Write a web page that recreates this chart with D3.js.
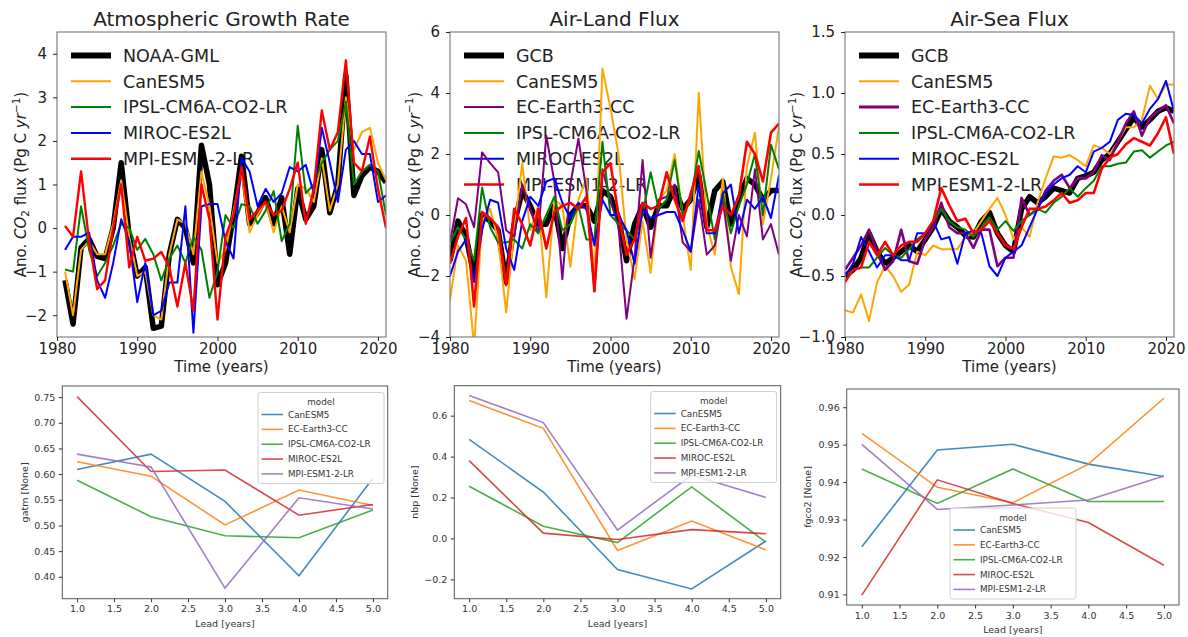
<!DOCTYPE html>
<html>
<head>
<meta charset="utf-8">
<script src="https://cdnjs.cloudflare.com/ajax/libs/d3/7.8.5/d3.min.js"></script>
<style>
body { margin: 0; background: #fff; }
text { font-family: "DejaVu Sans", sans-serif; }
</style>
</head>
<body>
<svg id="fig" width="1188" height="637"></svg>
<script>
// ---------- data : top row (anomalies, Pg C / yr) ----------
var years = [1980, 1981, 1982, 1983, 1984, 1985, 1986, 1987, 1988, 1989,
             1990, 1991, 1992, 1993, 1994, 1995, 1996, 1997, 1998, 1999,
             2000, 2001, 2002, 2003, 2004, 2005, 2006, 2007, 2008, 2009,
             2010, 2011, 2012, 2013, 2014, 2015, 2016, 2017, 2018, 2019,
             2020, 2021];
var atmYears = years.slice(1);   // growth rate series start in 1981
var yearTicks = [1980, 1990, 2000, 2010, 2020];

// Atmospheric growth rate (1981-2021)
var atm_noaa  = [-1.2, -2.2, -0.45, -0.25, -0.65, -0.7, 0.0, 1.5, -0.2,
                 -1.1, -0.9, -2.3, -2.25, -0.6, 0.2, 0.0, -0.8, 1.9, 1.0,
                 -1.3, -0.8, 0.3, 1.65, 0.1, 0.35, 0.7, 0.1, 0.7, -0.6,
                 0.9, 0.2, 0.5, 1.8, 0.35, 1.0, 3.5, 0.75, 1.2, 1.4,
                 1.3, 1.05];
var atm_can   = [-1.0, -2.0, -0.5, -0.3, -0.6, -0.6, 0.1, 1.1, -0.2,
                 -1.1, -1.0, -2.0, -2.1, -0.6, 0.2, 0.1, -0.6, 1.3, 0.5,
                 -0.8, -0.5, 0.4, 1.3, -0.1, 0.3, 0.6, -0.1, 0.5, -0.1,
                 1.0, 0.9, 0.6, 1.6, 0.4, 1.0, 3.0, 1.8, 2.2, 2.3,
                 1.5, 1.1];
var atm_ipsl  = [-0.95, -1.0, 0.5, -0.5, -1.1, -0.8, -0.4, 0.1, 0.0,
                 -0.5, -0.25, -0.6, -1.2, -0.7, -0.4, -0.8, -0.2, -0.5, -1.6,
                 -1.0, 0.3, 0.0, 0.55, 0.5, 0.1, 0.4, 0.85, -0.3, 0.1,
                 2.35, 0.8, 1.0, 1.5, 1.8, 2.0, 2.9, 1.0, 1.3, 1.45,
                 1.3, 0.3];
var atm_miroc = [-0.5, -0.2, -0.2, -0.1, -1.2, -1.6, -0.8, 0.2, -0.3,
                 -1.7, -0.8, -2.0, -1.9, -1.25, -1.25, 0.5, -2.4, 0.5, 0.55,
                 0.55, -0.3, -0.7, 1.6, 1.3, 0.5, 0.9, 0.6, 0.8, 1.4,
                 1.3, 1.45, 0.8, 2.3, 1.5, 0.6, 1.8, 2.0, 1.7, 1.7,
                 0.6, 0.75];
var atm_mpi   = [0.05, -0.2, 1.3, -0.3, -1.4, -1.2, 0.0, 1.0, -0.9,
                 -0.2, -0.75, -0.7, -0.55, -0.9, -1.8, -0.8, -1.9, 1.0, 0.2,
                 -2.1, -0.2, 0.3, 1.4, 0.2, 0.4, 0.6, 0.3, 0.4, 0.9,
                 1.5, 0.1, 0.9, 2.7, 1.8, 2.2, 3.85, 1.5, 1.3, 2.1,
                 0.9, 0.0];

// Air-land flux (1980-2021)
var land_gcb   = [-1.5, -0.2, -0.7, -2.0, 0.0, -0.2, -0.5, -2.2, -0.3, 0.8,
                  0.3, -0.3, -0.3, 0.3, -1.1, 0.0, 0.3, 0.3, -0.2, 0.8,
                  0.6, -0.1, -1.5, -0.3, 0.3, -0.4, 0.3, 0.3, 0.9, 0.2,
                  0.5, 1.3, -0.4, 0.8, 1.1, -0.3, 0.5, 1.2, 1.0, 0.5,
                  0.8, 0.8];
var land_can   = [-2.8, -1.0, -1.5, -4.3, -0.2, 0.2, -0.8, -3.2, -0.5, 1.7,
                  -0.5, 0.3, -2.7, 0.5, 0.3, -1.7, 0.5, 1.2, -2.0, 4.8,
                  3.5, 2.0, -0.8, -2.1, -0.2, -1.9, 0.5, 0.8, 2.0, 0.0,
                  -1.8, 4.0, -0.3, -1.3, 1.2, -1.7, -2.6, 1.6, 2.7, -0.3,
                  1.2, 2.9];
var land_ec    = [-0.9, 0.55, 0.35, -0.4, 2.05, 1.7, 1.4, -0.5, -0.7, 1.0,
                  0.2, -0.6, 2.6, 1.1, -2.1, 1.0, 2.5, 0.8, -2.5, 1.5,
                  0.5, -0.4, -3.4, -1.4, 1.8, -1.4, 0.5, 0.6, 1.0, -0.9,
                  -1.2, 0.5, -1.3, -1.0, 0.5, -1.5, 0.0, -0.7, 1.5, -0.8,
                  -0.3, -1.3];
var land_ipsl  = [-0.9, -0.4, -0.8, -1.5, 0.9, -0.4, -0.9, -0.9, -0.8, -1.1,
                  -0.3, -0.6, 0.0, 0.6, -0.5, -0.3, 0.3, -0.8, -0.8, 2.4,
                  0.0, -0.3, -0.5, -0.8, 0.0, 1.4, 0.2, 0.5, 1.8, 0.0,
                  0.5, 2.1, 0.7, -0.8, 0.7, -0.6, 0.3, 1.0, 2.0, 0.0,
                  2.3, 1.5];
var land_miroc = [-2.0, -1.2, -0.8, -2.2, -0.5, 0.5, 0.4, -1.1, -1.8, -0.2,
                  0.6, 0.3, 1.1, 1.2, 0.4, -0.1, 0.4, 0.2, -1.0, 0.5,
                  0.0, 0.0, -0.5, -1.6, 0.2, -0.1, 0.0, 0.1, 0.1, -0.5,
                  -1.2, 1.0, -0.6, -0.6, 0.7, 1.0, -0.6, 0.5, 0.2, 0.6,
                  -0.1, 1.3];
var land_mpi   = [-1.6, -0.7, -0.1, -3.0, 0.1, -0.1, -0.4, -2.3, 0.2, -0.3,
                  -1.0, 0.2, -1.1, 0.1, 0.3, 0.4, 0.2, 0.6, -2.5, 1.4,
                  1.7, 0.0, -1.3, -0.8, 0.4, 0.2, 0.3, 1.4, 0.5, -0.2,
                  0.7, 1.6, -0.5, -0.5, 0.3, 0.0, 0.6, 2.4, 2.0, 1.1,
                  2.7, 3.0];

// Air-sea flux (1980-2021)
var sea_gcb   = [-0.5, -0.45, -0.35, -0.15, -0.3, -0.4, -0.35, -0.3, -0.25, -0.3,
                 -0.2, -0.1, 0.05, -0.05, -0.1, -0.17, -0.18, -0.05, 0.02, -0.15,
                 -0.25, -0.3, 0.05, 0.15, 0.1, 0.15, 0.22, 0.2, 0.18, 0.3,
                 0.32, 0.35, 0.45, 0.5, 0.6, 0.7, 0.8, 0.72, 0.78, 0.85,
                 0.88, 0.85];
var sea_can   = [-0.78, -0.8, -0.65, -0.87, -0.55, -0.42, -0.5, -0.63, -0.57, -0.3,
                 -0.33, -0.25, -0.28, -0.28, -0.28, -0.18, -0.15, -0.05, 0.05, 0.14,
                 0.0, -0.2, -0.1, -0.18, 0.1, 0.3, 0.48, 0.47, 0.49, 0.45,
                 0.4, 0.57, 0.55, 0.5, 0.6, 0.72, 0.72, 0.78, 1.06, 0.95,
                 1.07, 1.07];
var sea_ec    = [-0.45, -0.35, -0.25, -0.12, -0.3, -0.45, -0.38, -0.12, -0.38, -0.4,
                 -0.2, -0.1, 0.1, -0.1, -0.15, -0.15, -0.27, -0.12, -0.12, -0.42,
                 -0.35, -0.35, 0.14, 0.0, 0.05, 0.2, 0.28, 0.33, 0.22, 0.3,
                 0.3, 0.35, 0.49, 0.45, 0.6, 0.75, 0.85, 0.65, 0.8, 0.85,
                 0.9, 0.75];
var sea_ipsl  = [-0.5, -0.45, -0.43, -0.43, -0.35, -0.27, -0.33, -0.35, -0.28, -0.2,
                 -0.15, -0.05, 0.05, -0.05, -0.1, -0.12, -0.18, -0.1, -0.02, -0.12,
                 -0.05, -0.13, -0.05, 0.0, 0.05, 0.02, 0.1, 0.15, 0.22, 0.15,
                 0.22, 0.28, 0.4, 0.4, 0.42, 0.43, 0.52, 0.53, 0.47, 0.52,
                 0.57, 0.6];
var sea_miroc = [-0.5, -0.4, -0.18, -0.3, -0.43, -0.33, -0.33, -0.37, -0.37, -0.15,
                 -0.15, -0.05, -0.2, -0.18, -0.4, -0.15, -0.13, -0.15, -0.42, -0.5,
                 -0.35, -0.3, -0.25, -0.1, 0.05, 0.18, 0.25, 0.3, 0.33, 0.4,
                 0.35, 0.52, 0.55, 0.6, 0.78, 0.83, 0.82, 0.75, 0.87, 0.95,
                 1.1, 0.85];
var sea_mpi   = [-0.55, -0.45, -0.43, -0.22, -0.33, -0.22, -0.33, -0.25, -0.22, -0.22,
                 -0.15, -0.05, 0.22, 0.08, -0.05, -0.03, -0.15, -0.12, -0.05, -0.15,
                 -0.25, -0.28, -0.1, 0.05, 0.05, 0.07, 0.12, 0.18, 0.1, 0.12,
                 0.18, 0.18, 0.38, 0.47, 0.5, 0.58, 0.63, 0.6, 0.57, 0.67,
                 0.8, 0.5];

// ---------- data : bottom row (skill by lead year) ----------
var leads = [1, 2, 3, 4, 5];
var leadTicks = [1.0, 1.5, 2.0, 2.5, 3.0, 3.5, 4.0, 4.5, 5.0];
var models = ["CanESM5", "EC-Earth3-CC", "IPSL-CM6A-CO2-LR", "MIROC-ES2L", "MPI-ESM1-2-LR"];

var gatm_can   = [0.609, 0.639, 0.547, 0.402, 0.592];
var gatm_ec    = [0.624, 0.596, 0.501, 0.569, 0.539];
var gatm_ipsl  = [0.588, 0.517, 0.480, 0.476, 0.530];
var gatm_miroc = [0.751, 0.605, 0.608, 0.520, 0.541];
var gatm_mpi   = [0.639, 0.614, 0.378, 0.554, 0.532];

var nbp_can   = [0.484, 0.227, -0.152, -0.247, -0.013];
var nbp_ec    = [0.674, 0.538, -0.059, 0.085, -0.056];
var nbp_ipsl  = [0.255, 0.060, -0.020, 0.252, -0.018];
var nbp_miroc = [0.380, 0.026, -0.005, 0.043, 0.023];
var nbp_mpi   = [0.699, 0.566, 0.041, 0.310, 0.200];

var fg_can   = [0.9227, 0.9486, 0.9501, 0.9448, 0.9415];
var fg_ec    = [0.9530, 0.9386, 0.9345, 0.9448, 0.9624];
var fg_ipsl  = [0.9435, 0.9343, 0.9435, 0.9348, 0.9348];
var fg_miroc = [0.9098, 0.9406, 0.9343, 0.9292, 0.9178];
var fg_mpi   = [0.9501, 0.9327, 0.9339, 0.9352, 0.9416];

// ---------- figure ----------
var svg = d3.select("#fig");
var tab10 = ["#1f77b4", "#ff7f0e", "#2ca02c", "#d62728", "#9467bd"];

function zip(xs, ys) {
    return xs.map(function(d, i) { return [d, ys[i]]; });
}

function style_axis(ax, size, color) {
    ax.select(".domain").remove();
    ax.selectAll(".tick line").attr("stroke", color);
    ax.selectAll(".tick text")
        .attr("fill", color)
        .attr("font-size", size)
        .attr("font-family", "DejaVu Sans, sans-serif");
}

function co2_label(g, x, y, size) {
    var t = g.append("text")
        .attr("transform", "translate(" + x + "," + y + ") rotate(-90)")
        .attr("text-anchor", "middle")
        .attr("font-size", size)
        .attr("fill", "#222");
    t.append("tspan").text("Ano. ");
    t.append("tspan").attr("font-style", "italic").text("CO");
    t.append("tspan").attr("font-size", size * 0.7).attr("dy", size * 0.22).text("2");
    t.append("tspan").attr("dy", -size * 0.22).text(" flux (Pg C ");
    t.append("tspan").attr("font-style", "italic").text("yr");
    t.append("tspan").attr("font-size", size * 0.7).attr("dy", -size * 0.42).text("\u22121");
    t.append("tspan").attr("dy", size * 0.42).text(")");
}

function draw_top(p, idx) {
    var g = svg.append("g");
    var x = d3.scaleLinear().domain([1980, 2021]).range([p.left, p.right]);
    var y = d3.scaleLinear().domain(p.ydom).range([p.bottom, p.top]);

    g.append("clipPath").attr("id", "clipT" + idx)
        .append("rect")
        .attr("x", p.left).attr("y", p.top)
        .attr("width", p.right - p.left).attr("height", p.bottom - p.top);

    // legend (no frame, lines run over it)
    var leg = g.append("g")
        .selectAll("g")
        .data(p.series)
        .enter().append("g")
        .attr("transform", function(d, i) { return "translate(" + p.left + "," + (p.top + 23.5 + i * 25.8) + ")"; });
    leg.append("line")
        .attr("x1", 14).attr("x2", 54)
        .attr("stroke", function(d) { return d.color; })
        .attr("stroke-width", function(d) { return d.legw; });
    leg.append("text")
        .attr("x", 66)
        .attr("dy", "0.36em")
        .attr("font-size", 17.5)
        .attr("fill", "#222")
        .text(function(d) { return d.name; });

    var line = d3.line()
        .x(function(d) { return x(d[0]); })
        .y(function(d) { return y(d[1]); });

    g.append("g")
        .attr("clip-path", "url(#clipT" + idx + ")")
        .selectAll("path")
        .data(p.series)
        .enter().append("path")
        .attr("d", function(d) { return line(zip(d.x, d.v)); })
        .attr("fill", "none")
        .attr("stroke", function(d) { return d.color; })
        .attr("stroke-width", function(d) { return d.w; })
        .attr("stroke-linejoin", "round");

    g.append("rect")
        .attr("x", p.left).attr("y", p.top)
        .attr("width", p.right - p.left).attr("height", p.bottom - p.top)
        .attr("fill", "none").attr("stroke", "#808080").attr("stroke-width", 1.2);

    var xa = g.append("g")
        .attr("transform", "translate(0," + p.bottom + ")")
        .call(d3.axisBottom(x).tickValues(yearTicks).tickFormat(d3.format("d")).tickSize(4).tickPadding(2));
    style_axis(xa, 15, "#222");
    var ya = g.append("g")
        .attr("transform", "translate(" + p.left + ",0)")
        .call(d3.axisLeft(y).tickValues(p.yticks).tickFormat(d3.format(p.yfmt)).tickSize(4).tickPadding(6));
    style_axis(ya, 15, "#222");

    g.append("text")
        .attr("x", (p.left + p.right) / 2).attr("y", 26)
        .attr("text-anchor", "middle")
        .attr("font-size", 20)
        .attr("fill", "#222")
        .text(p.title);
    g.append("text")
        .attr("x", (p.left + p.right) / 2).attr("y", p.bottom + 34.5)
        .attr("text-anchor", "middle")
        .attr("font-size", 15)
        .attr("fill", "#222")
        .text("Time (years)");
    co2_label(g, p.ylabx, (p.top + p.bottom) / 2, 15);
}

function draw_bottom(p, idx) {
    var g = svg.append("g");
    var x = d3.scaleLinear().domain([0.8, 5.2]).range([p.left, p.right]);
    var y = d3.scaleLinear().domain(p.ydom).range([p.bottom, p.top]);

    var line = d3.line()
        .x(function(d) { return x(d[0]); })
        .y(function(d) { return y(d[1]); });

    g.append("g")
        .selectAll("path")
        .data(p.series)
        .enter().append("path")
        .attr("d", function(d) { return line(zip(leads, d)); })
        .attr("fill", "none")
        .attr("stroke", function(d, i) { return tab10[i]; })
        .attr("stroke-opacity", 0.85)
        .attr("stroke-width", 1.6);

    g.append("rect")
        .attr("x", p.left).attr("y", p.top)
        .attr("width", p.right - p.left).attr("height", p.bottom - p.top)
        .attr("fill", "none").attr("stroke", "#555").attr("stroke-width", 1);

    var xa = g.append("g")
        .attr("transform", "translate(0," + p.bottom + ")")
        .call(d3.axisBottom(x).tickValues(leadTicks).tickFormat(d3.format(".1f")).tickSize(3.5).tickPadding(3.5));
    style_axis(xa, 9.5, "#333");
    var ya = g.append("g")
        .attr("transform", "translate(" + p.left + ",0)")
        .call(d3.axisLeft(y).tickValues(p.yticks).tickFormat(d3.format(p.yfmt)).tickSize(3.5).tickPadding(3.5));
    style_axis(ya, 9.5, "#333");

    g.append("text")
        .attr("x", (p.left + p.right) / 2).attr("y", p.bottom + 28)
        .attr("text-anchor", "middle")
        .attr("font-size", 9.5)
        .attr("fill", "#333")
        .text("Lead [years]");
    g.append("text")
        .attr("transform", "translate(" + p.ylabx + "," + ((p.top + p.bottom) / 2) + ") rotate(-90)")
        .attr("text-anchor", "middle")
        .attr("font-size", 9.5)
        .attr("fill", "#333")
        .text(p.ylabel);

    // legend box
    var lg = g.append("g").attr("transform", "translate(" + p.legx + "," + p.legy + ")");
    lg.append("rect")
        .attr("width", 126).attr("height", 91)
        .attr("rx", 2.5)
        .attr("fill", "#fff").attr("fill-opacity", 0.8)
        .attr("stroke", "#d0d0d0");
    lg.append("text")
        .attr("x", 63).attr("y", 9.5).attr("dy", "0.35em")
        .attr("text-anchor", "middle")
        .attr("font-size", 8.8).attr("fill", "#333")
        .text("model");
    var it = lg.selectAll(".it")
        .data(models)
        .enter().append("g")
        .attr("class", "it")
        .attr("transform", function(d, i) { return "translate(0," + (22 + i * 14.85) + ")"; });
    it.append("line")
        .attr("x1", 3.5).attr("x2", 25)
        .attr("stroke", function(d, i) { return tab10[i]; })
        .attr("stroke-opacity", 0.85)
        .attr("stroke-width", 1.6);
    it.append("text")
        .attr("x", 30).attr("dy", "0.35em")
        .attr("font-size", 8.8).attr("fill", "#333")
        .text(function(d) { return d; });
}

var topPanels = [
    { title: "Atmospheric Growth Rate", left: 57, right: 386, top: 32, bottom: 337,
      ydom: [-2.5, 4.5], yticks: [-2, -1, 0, 1, 2, 3, 4], yfmt: "d", ylabx: 26,
      series: [
        { name: "NOAA-GML", x: atmYears, v: atm_noaa, color: "black", w: 5.5, legw: 6 },
        { name: "CanESM5", x: atmYears, v: atm_can, color: "orange", w: 2, legw: 2 },
        { name: "IPSL-CM6A-CO2-LR", x: atmYears, v: atm_ipsl, color: "green", w: 2, legw: 2 },
        { name: "MIROC-ES2L", x: atmYears, v: atm_miroc, color: "blue", w: 2, legw: 2 },
        { name: "MPI-ESM1-2-LR", x: atmYears, v: atm_mpi, color: "red", w: 2.4, legw: 2.4 }
      ] },
    { title: "Air-Land Flux", left: 450, right: 779, top: 32, bottom: 337,
      ydom: [-4, 6], yticks: [-4, -2, 0, 2, 4, 6], yfmt: "d", ylabx: 419.5,
      series: [
        { name: "GCB", x: years, v: land_gcb, color: "black", w: 5.5, legw: 6 },
        { name: "CanESM5", x: years, v: land_can, color: "orange", w: 2, legw: 2 },
        { name: "EC-Earth3-CC", x: years, v: land_ec, color: "purple", w: 2, legw: 2 },
        { name: "IPSL-CM6A-CO2-LR", x: years, v: land_ipsl, color: "green", w: 2, legw: 2 },
        { name: "MIROC-ES2L", x: years, v: land_miroc, color: "blue", w: 2, legw: 2 },
        { name: "MPI-ESM1-2-LR", x: years, v: land_mpi, color: "red", w: 2.6, legw: 2.6 }
      ] },
    { title: "Air-Sea Flux", left: 845, right: 1174, top: 32, bottom: 337,
      ydom: [-1, 1.5], yticks: [-1, -0.5, 0, 0.5, 1, 1.5], yfmt: ".1f", ylabx: 802,
      series: [
        { name: "GCB", x: years, v: sea_gcb, color: "black", w: 5.5, legw: 6 },
        { name: "CanESM5", x: years, v: sea_can, color: "orange", w: 2, legw: 2 },
        { name: "EC-Earth3-CC", x: years, v: sea_ec, color: "purple", w: 2.6, legw: 3 },
        { name: "IPSL-CM6A-CO2-LR", x: years, v: sea_ipsl, color: "green", w: 2, legw: 2 },
        { name: "MIROC-ES2L", x: years, v: sea_miroc, color: "blue", w: 2, legw: 2 },
        { name: "MPI-ESM1-2-LR", x: years, v: sea_mpi, color: "red", w: 2.6, legw: 2.6 }
      ] }
];

var bottomPanels = [
    { left: 62.3, right: 387.7, top: 386, bottom: 598.7,
      ydom: [0.3574, 0.7716], yticks: [0.40, 0.45, 0.50, 0.55, 0.60, 0.65, 0.70, 0.75], yfmt: ".2f",
      ylabel: "gatm [None]", ylabx: 28, legx: 258, legy: 392.5,
      series: [gatm_can, gatm_ec, gatm_ipsl, gatm_miroc, gatm_mpi] },
    { left: 454.3, right: 780.7, top: 385.7, bottom: 598.7,
      ydom: [-0.2944, 0.7464], yticks: [-0.2, 0.0, 0.2, 0.4, 0.6], yfmt: ".1f",
      ylabel: "nbp [None]", ylabx: 418, legx: 650.7, legy: 391.5,
      series: [nbp_can, nbp_ec, nbp_ipsl, nbp_miroc, nbp_mpi] },
    { left: 846.7, right: 1179, top: 389, bottom: 605,
      ydom: [0.90717, 0.96487], yticks: [0.91, 0.92, 0.93, 0.94, 0.95, 0.96], yfmt: ".2f",
      ylabel: "fgco2 [None]", ylabx: 811, legx: 950, legy: 508,
      series: [fg_can, fg_ec, fg_ipsl, fg_miroc, fg_mpi] }
];

topPanels.forEach(draw_top);
bottomPanels.forEach(draw_bottom);
</script>
</body>
</html>
